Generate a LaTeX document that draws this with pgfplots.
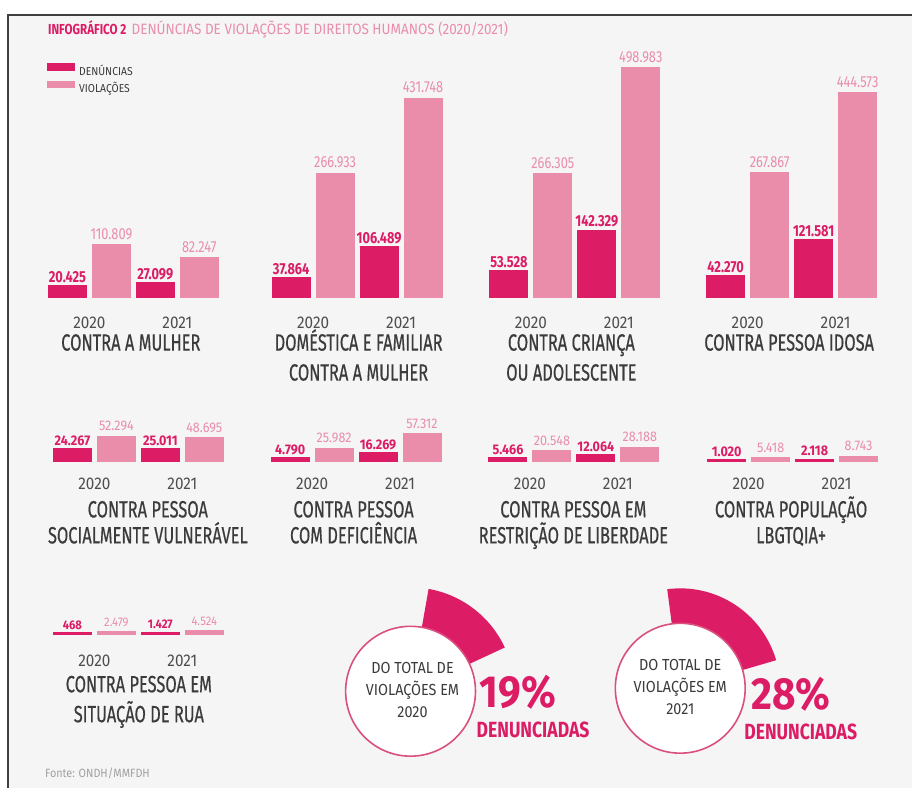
\documentclass[border=0pt]{standalone}
\usepackage{fontspec}
\setmainfont{Fira Sans}
\newfontfamily\cond{Fira Sans}[FakeStretch=0.8]
\newfontfamily\condn{Fira Sans}[FakeStretch=0.9]
\newfontfamily\catf{Fira Sans}[FakeStretch=0.7, FakeBold=0.4]
\usepackage{pgfplots}
\pgfplotsset{compat=1.18}

\definecolor{Den}{HTML}{DC1C65}
\definecolor{Vio}{HTML}{E98DAB}
\definecolor{Ink}{HTML}{3B3B3B}
\definecolor{Year}{HTML}{4E4E4E}
\definecolor{Frame}{HTML}{3F3F3F}
\definecolor{Bg}{HTML}{F5F5F5}
\definecolor{Ring}{HTML}{D9507F}
\definecolor{Src}{HTML}{A0A0A0}

\pgfplotsset{
  panel/.style={
    x=44pt, y=0.457pt, xmin=-0.5, xmax=3.5, ymin=0, ymax=520,
    anchor=south west, clip=false,
    axis line style={draw=none}, major tick style={draw=none},
    ytick=\empty, xtick={0.5,2.5}, xticklabels={2020,2021},
    xticklabel style={font=\condn\fontsize{17}{17}\selectfont, text=Year, anchor=base, inner sep=0pt},
    ybar, bar width=36pt,
    point meta=explicit symbolic, nodes near coords,
    every node near coord/.append style={inner sep=0pt, anchor=south},
  },
  den/.style={fill=Den, draw=Den, line width=3pt, bar shift=0pt,
    every node near coord/.append style={text=Den, font=\denfont, yshift=2.5pt}},
  vio/.style={fill=Vio, draw=Vio, line width=3pt, bar shift=0pt,
    every node near coord/.append style={text=Vio, font=\viofont, yshift=4.5pt}},
}
\tikzset{cat/.style={font=\catf\fontsize{23.5}{25}\selectfont, text=Ink, anchor=base, inner sep=0pt}}

\begin{document}
\begin{tikzpicture}[x=1pt, y=1pt]
\fill[white] (0,0) rectangle (913,789);
\fill[Bg] (8,0) rectangle (913,774);
\draw[Frame, line width=2pt] (8,0) -- (8,774) -- (913,774);

\node[anchor=base west, inner sep=0pt] at (48,754)
  {{\cond\bfseries\fontsize{14.5}{15}\selectfont\color{Den}INFOGRÁFICO 2}\ \
   {\condn\fontsize{15}{15}\selectfont\color{Vio}DENÚNCIAS DE VIOLAÇÕES DE DIREITOS HUMANOS (2020/2021)}};

% row 1
\def\denfont{\cond\bfseries\fontsize{16}{16}\selectfont}
\def\viofont{\cond\fontsize{16}{16}\selectfont}
\begin{axis}[panel, at={(45.5pt,492.5pt)}, xticklabel style={yshift=-28.5pt},
  legend style={at={(axis description cs:0.0085,0.983)}, anchor=north west,
    draw=none, fill=none, inner sep=0pt, row sep=5.5pt, column sep=4pt,
    font=\condn\fontsize{11.5}{12}\selectfont, text=Ink,
    nodes={inner sep=0pt, text height=8pt, text depth=0pt}},
  legend cell align=left,
  legend image code/.code={\path[#1] (1.5pt,1.5pt) rectangle (26.5pt,6.5pt);}]
\addplot[den] coordinates {(0,20.425)[20.425] (2,27.099)[27.099]};
\addlegendentry{DENÚNCIAS}
\addplot[vio] coordinates {(1,110.809)[110.809] (3,82.247)[82.247]};
\addlegendentry{VIOLAÇÕES}
\end{axis}
\begin{axis}[panel, at={(269.5pt,492.5pt)}, xticklabel style={yshift=-28.5pt}]
\addplot[den] coordinates {(0,37.864)[37.864] (2,106.489)[106.489]};
\addplot[vio] coordinates {(1,266.933)[266.933] (3,431.748)[431.748]};
\end{axis}
\begin{axis}[panel, at={(487.5pt,492.5pt)}, xticklabel style={yshift=-28.5pt}]
\addplot[den] coordinates {(0,53.528)[53.528] (2,142.329)[142.329]};
\addplot[vio] coordinates {(1,266.305)[266.305] (3,498.983)[498.983]};
\end{axis}
\begin{axis}[panel, at={(704.5pt,492.5pt)}, xticklabel style={yshift=-28.5pt}]
\addplot[den] coordinates {(0,42.270)[42.270] (2,121.581)[121.581]};
\addplot[vio] coordinates {(1,267.867)[267.867] (3,444.573)[444.573]};
\end{axis}

% row 2
\def\denfont{\condn\bfseries\fontsize{14}{14}\selectfont}
\def\viofont{\condn\fontsize{14}{14}\selectfont}
\begin{axis}[panel, at={(50.5pt,327.5pt)}, xticklabel style={yshift=-24.5pt}]
\addplot[den] coordinates {(0,24.267)[24.267] (2,25.011)[25.011]};
\addplot[vio] coordinates {(1,52.294)[52.294] (3,48.695)[48.695]};
\end{axis}
\begin{axis}[panel, at={(268.5pt,327.5pt)}, xticklabel style={yshift=-24.5pt}]
\addplot[den] coordinates {(0,4.790)[4.790] (2,16.269)[16.269]};
\addplot[vio] coordinates {(1,25.982)[25.982] (3,57.312)[57.312]};
\end{axis}
\begin{axis}[panel, at={(486.5pt,327.5pt)}, xticklabel style={yshift=-24.5pt}]
\addplot[den] coordinates {(0,5.466)[5.466] (2,12.064)[12.064]};
\addplot[vio] coordinates {(1,20.548)[20.548] (3,28.188)[28.188]};
\end{axis}
\begin{axis}[panel, at={(705.5pt,327.5pt)}, xticklabel style={yshift=-24.5pt}]
\addplot[den] coordinates {(0,1.020)[1.020] (2,2.118)[2.118]};
\addplot[vio] coordinates {(1,5.418)[5.418] (3,8.743)[8.743]};
\end{axis}

% row 3
\def\denfont{\condn\bfseries\fontsize{12.5}{13}\selectfont}
\def\viofont{\condn\fontsize{12.5}{13}\selectfont}
\begin{axis}[panel, at={(50.5pt,154.5pt)}, xticklabel style={yshift=-28.5pt}]
\addplot[den] coordinates {(0,0.468)[468] (2,1.427)[1.427]};
\addplot[vio] coordinates {(1,2.479)[2.479] (3,4.524)[4.524]};
\end{axis}

% share of violations reported
\begin{axis}[at={(0pt,0pt)}, anchor=south west, x=1pt, y=1pt,
  xmin=0, xmax=913, ymin=0, ymax=789, hide axis, clip=false]
\fill[Den] ([shift={(80:104pt)}]axis cs:411,97) arc[start angle=80, end angle={80-2.9*19}, radius=104pt]
  -- ([shift={({80-2.9*19}:65pt)}]axis cs:411,97) arc[start angle={80-2.9*19}, end angle=80, radius=65pt] -- cycle;
\draw[Ring, line width=1.6pt, fill=white] (axis cs:411,97) circle[radius=65pt];
\fill[Den] ([shift={(97.5:100pt)}]axis cs:681,100) arc[start angle=97.5, end angle={97.5-2.9*28}, radius=100pt]
  -- ([shift={({97.5-2.9*28}:65pt)}]axis cs:681,100) arc[start angle={97.5-2.9*28}, end angle=97.5, radius=65pt] -- cycle;
\draw[Ring, line width=1.6pt, fill=white] (axis cs:681,100) circle[radius=65pt];
\end{axis}

\begin{scope}[every node/.style={font=\condn\fontsize{16}{16}\selectfont, text=Ink, anchor=base, inner sep=0pt}]
\node at (413,115) {DO TOTAL DE};
\node at (413,93) {VIOLAÇÕES EM};
\node at (413,71) {2020};
\node at (681,118) {DO TOTAL DE};
\node at (681,96) {VIOLAÇÕES EM};
\node at (681,74) {2021};
\end{scope}
\node[anchor=base west, inner sep=0pt, text=Den, font=\condn\bfseries\fontsize{45}{45}\selectfont] at (480,81) {19\%};
\node[anchor=base west, inner sep=0pt, text=Den, font=\cond\bfseries\fontsize{22}{22}\selectfont] at (477,51) {DENUNCIADAS};
\node[anchor=base west, inner sep=0pt, text=Den, font=\condn\bfseries\fontsize{45}{45}\selectfont] at (752,79) {28\%};
\node[anchor=base west, inner sep=0pt, text=Den, font=\cond\bfseries\fontsize{22}{22}\selectfont] at (745,49) {DENUNCIADAS};

% category names
\node[cat] at (131,438) {CONTRA A MULHER};
\node[cat] at (359,438) {DOMÉSTICA E FAMILIAR};
\node[cat] at (359,408) {CONTRA A MULHER};
\node[cat] at (572,438) {CONTRA CRIANÇA};
\node[cat] at (572,408) {OU ADOLESCENTE};
\node[cat] at (790,438) {CONTRA PESSOA IDOSA};
\node[cat] at (148,271) {CONTRA PESSOA};
\node[cat] at (148,245) {SOCIALMENTE VULNERÁVEL};
\node[cat] at (354,271) {CONTRA PESSOA};
\node[cat] at (354,245) {COM DEFICIÊNCIA};
\node[cat] at (574,271) {CONTRA PESSOA EM};
\node[cat] at (574,245) {RESTRIÇÃO DE LIBERDADE};
\node[cat] at (792,271) {CONTRA POPULAÇÃO};
\node[cat] at (792,245) {LBGTQIA+};
\node[cat] at (139,96) {CONTRA PESSOA EM};
\node[cat] at (139,66) {SITUAÇÃO DE RUA};

\node[anchor=base west, inner sep=0pt, text=Src, font=\condn\fontsize{12}{12}\selectfont] at (45,11) {Fonte: ONDH/MMFDH};
\end{tikzpicture}
\end{document}
